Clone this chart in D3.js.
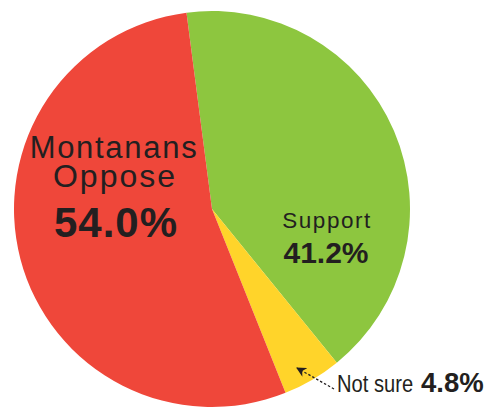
<!DOCTYPE html>
<html>
<head>
<meta charset="utf-8">
<script src="https://cdn.jsdelivr.net/npm/d3@7"></script>
<style>
  body { margin: 0; background: #fff; }
  text { font-family: "Liberation Sans", Arial, sans-serif; fill: #231f20; }
</style>
</head>
<body>
<div class="chart"></div>
<script>
const width = 502;
const height = 411;
const cx = 212, cy = 209, radius = 198;

const categories = ["Support", "Not sure", "Oppose"];
const values = [41.2, 4.8, 54.0];
const colors = ["#8dc63f", "#ffd42a", "#ef473a"];

let svg = d3.select('.chart')
  .append('svg')
  .attr('width', width)
  .attr('height', height);

let g = svg.append('g')
  .attr('transform', "translate(" + cx + "," + cy + ")");

// pie starts a little left of twelve o'clock
let pie = d3.pie()
  .sort(null)
  .startAngle(-7.4 * Math.PI / 180)
  .endAngle((360 - 7.4) * Math.PI / 180)
  .value(d => d);

let arc = d3.arc().innerRadius(0).outerRadius(radius);

let arcs = pie(values);

g.selectAll('path')
  .data(arcs)
  .enter()
  .append('path')
  .attr('d', arc)
  .attr('fill', (d, i) => colors[i]);

// labels
svg.append('text')
  .attr('x', 114).attr('y', 158)
  .attr('text-anchor', 'middle')
  .style('font-size', '31px')
  .style('letter-spacing', '1.7px')
  .text('Montanans');

svg.append('text')
  .attr('x', 115).attr('y', 187)
  .attr('text-anchor', 'middle')
  .style('font-size', '32px')
  .style('letter-spacing', '2px')
  .text(categories[2]);

svg.append('text')
  .attr('x', 116).attr('y', 237)
  .attr('text-anchor', 'middle')
  .style('font-size', '42px')
  .style('font-weight', 'bold')
  .style('letter-spacing', '1px')
  .text(values[2].toFixed(1) + '%');

svg.append('text')
  .attr('x', 327).attr('y', 228)
  .attr('text-anchor', 'middle')
  .style('font-size', '22.5px')
  .style('letter-spacing', '1.5px')
  .text(categories[0]);

svg.append('text')
  .attr('x', 326).attr('y', 263)
  .attr('text-anchor', 'middle')
  .style('font-size', '30px')
  .style('font-weight', 'bold')
  .text(values[0].toFixed(1) + '%');

// small slice callout
svg.append('text')
  .attr('transform', 'translate(337,392) scale(0.84,1)')
  .style('font-size', '24px')
  .text(categories[1]);

svg.append('text')
  .attr('x', 421).attr('y', 392)
  .style('font-size', '27.5px')
  .style('font-weight', 'bold')
  .text(values[1].toFixed(1) + '%');

svg.append('defs').append('marker')
  .attr('id', 'arrow')
  .attr('viewBox', '0 0 10 10')
  .attr('refX', 9).attr('refY', 5)
  .attr('markerWidth', 10).attr('markerHeight', 10)
  .attr('markerUnits', 'userSpaceOnUse')
  .attr('orient', 'auto')
  .append('path')
  .attr('d', 'M0,0 L10,5 L0,10 L3,5 Z')
  .attr('fill', '#231f20');

svg.append('line')
  .attr('x1', 334).attr('y1', 389)
  .attr('x2', 297).attr('y2', 368)
  .attr('stroke', '#231f20')
  .attr('stroke-width', 1.3)
  .attr('stroke-dasharray', '2.5,2')
  .attr('marker-end', 'url(#arrow)');
</script>
</body>
</html>
